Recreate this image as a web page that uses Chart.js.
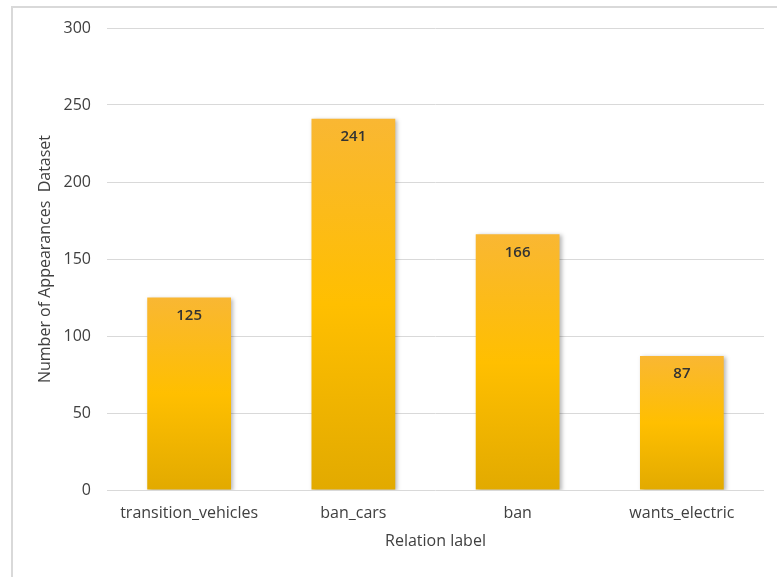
<!DOCTYPE html>
<html>
<head>
<meta charset="utf-8">
<script src="https://cdn.jsdelivr.net/npm/chart.js@4.4.1/dist/chart.umd.min.js"></script>
<style>
  html, body { margin: 0; padding: 0; background: #fff; }
  #frame {
    position: absolute; left: 11px; top: 6px; width: 780px; height: 600px;
    border-left: 2px solid #d9d9d9; border-top: 2px solid #d9d9d9;
  }
  #wrap { position: absolute; left: 0; top: 0; width: 777px; height: 577px; }
</style>
</head>
<body>
<div id="frame"></div>
<div id="wrap"><canvas id="barChart" width="777" height="577"></canvas></div>
<script>
// Datos del gráfico
const labels = ['transition_vehicles', 'ban_cars', 'ban', 'wants_electric'];
const counts = [125, 241, 166, 87];
const yTicks = [0, 50, 100, 150, 200, 250, 300];

const FONT = "'Open Sans', sans-serif";
const textColor = '#404040';

// Degradado vertical de cada barra (naranja arriba, amarillo, oscuro abajo)
function barGradient(context) {
  const chart = context.chart;
  const yScale = chart.scales.y;
  if (!yScale || !context.parsed) return '#FFC000';
  const top = yScale.getPixelForValue(context.parsed.y);
  const bottom = yScale.getPixelForValue(0);
  if (!isFinite(top) || !isFinite(bottom) || top === bottom) return '#FFC000';
  const g = chart.ctx.createLinearGradient(0, top, 0, bottom);
  g.addColorStop(0, '#F9B733');
  g.addColorStop(0.5, '#FFBF00');
  g.addColorStop(1, '#E2AA00');
  return g;
}

// Sombra suave para las barras
const barShadow = {
  id: 'barShadow',
  beforeDatasetsDraw(chart) {
    const c = chart.ctx;
    c.save();
    c.shadowColor = 'rgba(0,0,0,0.28)';
    c.shadowBlur = 4;
    c.shadowOffsetX = 2;
    c.shadowOffsetY = 1;
  },
  afterDatasetsDraw(chart) {
    chart.ctx.restore();
  }
};

// Valores dentro de la parte superior de cada barra
const valueLabels = {
  id: 'valueLabels',
  afterDatasetsDraw(chart) {
    const c = chart.ctx;
    const meta = chart.getDatasetMeta(0);
    c.save();
    c.font = '600 15px ' + FONT;
    c.fillStyle = '#333333';
    c.textAlign = 'center';
    c.textBaseline = 'middle';
    meta.data.forEach((bar, i) => {
      c.fillText(String(counts[i]), bar.x, bar.y + 18);
    });
    c.restore();
  }
};

const barCtx = document.getElementById('barChart').getContext('2d');
const barChart = new Chart(barCtx, {
  type: 'bar',
  data: {
    labels: labels,
    datasets: [{
      label: 'Dataset',
      data: counts,
      backgroundColor: barGradient,
      borderWidth: 0,
      barPercentage: 0.51,
      categoryPercentage: 1
    }]
  },
  options: {
    responsive: false,
    animation: false,
    layout: { padding: { left: 0, right: 13, top: 28, bottom: 0 } },
    plugins: {
      legend: { display: false },
      tooltip: { enabled: false }
    },
    scales: {
      x: {
        grid: { display: false, drawTicks: false },
        border: { display: false },
        ticks: { color: textColor, padding: 14, font: { family: FONT, size: 16 } },
        title: {
          display: true, text: 'Relation label', color: textColor,
          font: { family: FONT, size: 16 }, padding: { top: 0, bottom: 26 }
        },
        afterFit(scale) { scale.height = 87; }
      },
      y: {
        min: 0, max: 300,
        afterBuildTicks(scale) { scale.ticks = yTicks.map(v => ({ value: v })); },
        grid: { color: '#d9d9d9', lineWidth: 1, drawTicks: false },
        border: { display: false },
        ticks: { color: textColor, padding: 16, font: { family: FONT, size: 16 } },
        title: {
          display: true, text: 'Number of Appearances  Dataset', color: textColor,
          font: { family: FONT, size: 16 }, padding: { top: 36, bottom: 0 }
        },
        afterFit(scale) { scale.width = 107; }
      }
    }
  },
  plugins: [barShadow, valueLabels]
});
</script>
</body>
</html>
